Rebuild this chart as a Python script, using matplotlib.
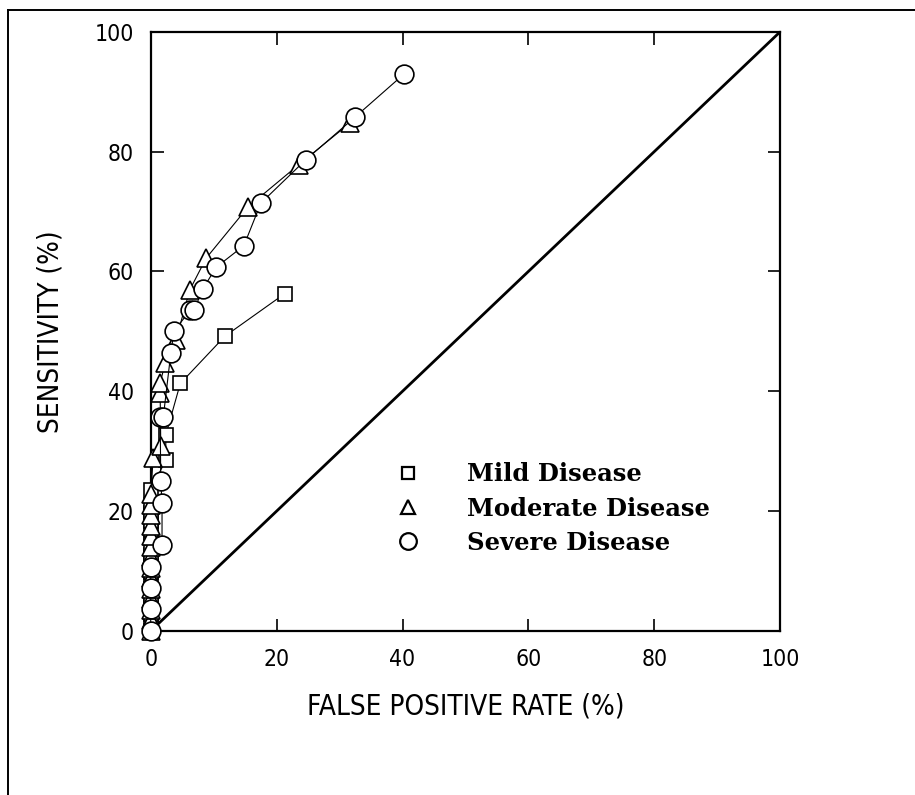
import matplotlib
matplotlib.use("Agg")
import matplotlib.pyplot as plt
from matplotlib.lines import Line2D

# ROC points (false positive rate %, sensitivity %)
mild_fpr = [0, 0, 0, 0, 0, 0, 0, 0, 0, 0, 0, 0, 0, 0, 0, 0, 0, 2.4, 2.4, 4.7, 11.8, 21.3]
mild_sens = [0, 1.4, 2.8, 4.2, 5.6, 7.0, 8.5, 9.9, 11.3, 12.7, 14.1, 15.5, 16.9, 18.3,
             19.7, 21.1, 23.6, 28.5, 32.7, 41.3, 49.2, 56.3]

mod_fpr = [0, 0, 0, 0, 0, 0, 0, 0, 0, 0, 0, 0, 0, 0, 0.4, 1.6, 1.5, 1.5, 2.3, 4.0,
           6.2, 8.8, 15.5, 23.5, 31.7]
mod_sens = [0, 1.8, 3.5, 5.3, 7.0, 8.8, 10.5, 12.3, 14.0, 15.8, 17.5, 19.3, 21.0, 22.8,
            28.9, 30.8, 39.7, 41.4, 44.7, 48.5, 56.9, 62.2, 70.8, 77.8, 84.8]

sev_fpr = [0, 0, 0, 0, 1.8, 1.8, 1.6, 1.5, 2.0, 3.2, 3.7, 6.3, 6.9, 8.3, 10.4, 14.8,
           17.5, 24.6, 32.4, 40.2]
sev_sens = [0, 3.6, 7.1, 10.7, 14.3, 21.4, 25.0, 35.7, 35.7, 46.4, 50.0, 53.6, 53.6,
            57.1, 60.7, 64.3, 71.4, 78.6, 85.7, 92.9]

labels = ["Mild Disease", "Moderate Disease", "Severe Disease"]
ticks = [0, 20, 40, 60, 80, 100]

tick_font = dict(family="DejaVu Sans", stretch="condensed", weight="light")

fig = plt.figure(figsize=(9.15, 7.95), dpi=100)
ax = fig.add_axes([0.1647, 0.2063, 0.688, 0.7538])

# chance line
ax.plot([0, 100], [0, 100], color="black", lw=2.0, zorder=2)

kw = dict(color="black", lw=0.8, mfc="white", mec="black", mew=1.2, zorder=3, clip_on=False)
ax.plot(mild_fpr, mild_sens, marker="s", ms=9.5, **kw)
ax.plot(mod_fpr, mod_sens, marker="^", ms=12.5, **kw)
ax.plot(sev_fpr, sev_sens, marker="o", ms=13.5, **kw)

ax.set_xlim(0, 100)
ax.set_ylim(0, 100)
ax.set_xticks(ticks)
ax.set_yticks(ticks)
ax.tick_params(direction="in", length=9, width=1.2, top=True, right=True,
               labelsize=16.5, pad=12)
for lab in ax.get_xticklabels() + ax.get_yticklabels():
    lab.set(**tick_font)
for sp in ax.spines.values():
    sp.set_linewidth(1.6)

ax.set_xlabel("FALSE POSITIVE RATE (%)", fontsize=20, labelpad=16, **tick_font)
ax.set_ylabel("SENSITIVITY (%)", fontsize=20, labelpad=22, **tick_font)

handles = [
    Line2D([], [], ls="none", marker="s", ms=8.5, mfc="white", mec="black", mew=1.6),
    Line2D([], [], ls="none", marker="^", ms=10.5, mfc="white", mec="black", mew=1.6),
    Line2D([], [], ls="none", marker="o", ms=12, mfc="white", mec="black", mew=1.6),
]
ax.legend(handles, labels, loc="upper left", bbox_to_anchor=(0.355, 0.318),
          frameon=False, handlelength=1.0, handletextpad=1.9, labelspacing=0.42,
          prop=dict(family="DejaVu Serif", weight="bold", size=17.5))

# outer frame lines (top and left)
fig.add_artist(Line2D([8 / 915, 1], [1 - 10 / 795, 1 - 10 / 795], color="black", lw=1.4))
fig.add_artist(Line2D([8 / 915, 8 / 915], [0, 1 - 10 / 795], color="black", lw=1.4))

fig.savefig("out.png", dpi=100)
